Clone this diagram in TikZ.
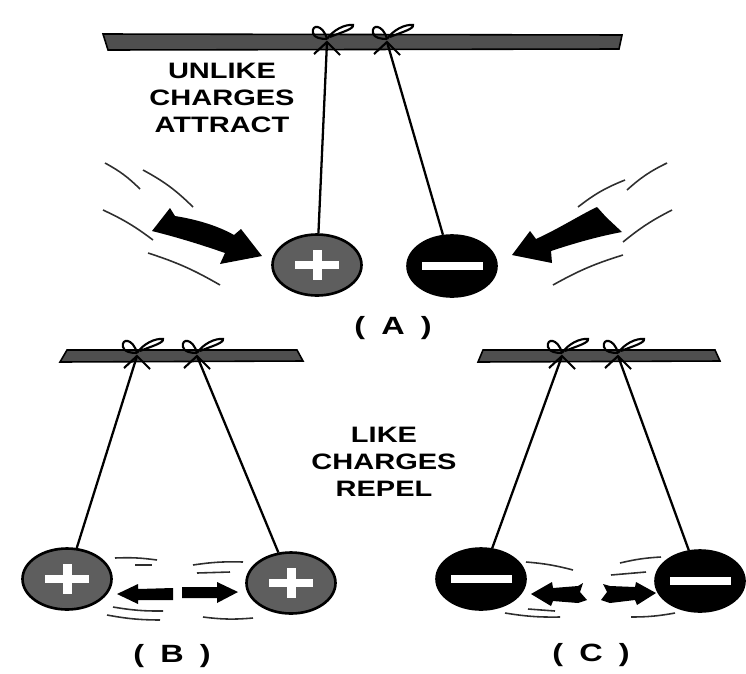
\documentclass[tikz,border=0pt]{standalone}
\usepackage{fontspec}
\setmainfont{Liberation Sans}
\usetikzlibrary{shapes.geometric}
\definecolor{BarGray}{HTML}{4F4F4F}
\definecolor{PosGray}{HTML}{5E5E5E}
\definecolor{WhooshGray}{HTML}{2E2E2E}

% bow tied round the rod, #1 is the knot point
\newcommand{\bowknot}[1]{%
  \begin{scope}[shift={(#1)}]
    \draw[knotline] (0,-3) .. controls (-4,-18) and (-16,-18) .. (-14,-9) .. controls (-13,-4) and (-6,-3) .. (0,-3);
    \draw[knotline] (0,-3) .. controls (6,-12) and (18,-18) .. (26,-17) .. controls (27,-13) and (15,-10) .. (3,-5);
    \draw[knotline] (-13,12) -- (0,0) -- (13,13);
  \end{scope}}

\begin{document}
\begin{tikzpicture}[x=0.02cm,y=-0.02cm,
 rod/.style={draw=black,line width=0.9pt,fill=BarGray},
 thread/.style={line width=1.3pt},
 knotline/.style={line width=1.2pt},
 whoosh/.style={line width=0.9pt,color=WhooshGray},
 ball/.style={ellipse,draw=black,line width=1.5pt,minimum width=1.78cm,minimum height=1.22cm,inner sep=0pt},
 posball/.style={ball,fill=PosGray,path picture={
   \fill[white] ([xshift=-0.44cm,yshift=-0.08cm]path picture bounding box.center) rectangle ([xshift=0.44cm,yshift=0.08cm]path picture bounding box.center);
   \fill[white] ([xshift=-0.09cm,yshift=-0.3cm]path picture bounding box.center) rectangle ([xshift=0.09cm,yshift=0.3cm]path picture bounding box.center);}},
 negball/.style={ball,fill=black,path picture={
   \fill[white] ([xshift=-0.61cm,yshift=-0.08cm]path picture bounding box.center) rectangle ([xshift=0.61cm,yshift=0.08cm]path picture bounding box.center);}},
 heading/.style={font=\fontsize{12.7}{15.4}\selectfont\bfseries,align=center,xscale=1.3,inner sep=0pt},
 caption/.style={font=\fontsize{14.2}{17}\selectfont\bfseries,xscale=1.3,inner sep=0pt}]
\useasboundingbox (0,0) rectangle (746,673);

% (A) unlike charges
\fill[rod] (103,34) -- (622,35) -- (619,49) -- (108,50) -- cycle;
\coordinate (kA1) at (327,42);
\coordinate (kA2) at (387,42);
\node[posball] (Ap) at (317,265) {};
\node[negball] (An) at (452,266) {};
\draw[thread] (kA1) -- (Ap);
\draw[thread] (kA2) -- (An);
\bowknot{kA1}
\bowknot{kA2}
\node[heading] (unlike) at (222,98) {UNLIKE\\CHARGES\\ATTRACT};
\fill (152,231) -- (170,208) -- (175,216) .. controls (200,220) and (220,227) .. (234,235)
  -- (241,229) -- (262,256) -- (220,264) -- (225,253) .. controls (205,246) and (180,238) .. (152,231) -- cycle;
\fill (512,255) -- (530,231) -- (536,239) .. controls (560,228) and (580,215) .. (597,207)
  -- (606,217) -- (622,232) .. controls (600,236) and (575,243) .. (551,251) -- (552,263) -- cycle;
\draw[whoosh] (105,163) to[bend left=8] (140,189);
\draw[whoosh] (143,170) to[bend left=8] (193,207);
\draw[whoosh] (103,210) to[bend left=6] (153,240);
\draw[whoosh] (148,253) to[bend left=6] (220,285);
\draw[whoosh] (578,207) to[bend left=8] (625,180);
\draw[whoosh] (627,190) to[bend left=8] (667,163);
\draw[whoosh] (623,242) to[bend left=6] (672,210);
\draw[whoosh] (553,285) to[bend left=6] (623,255);
\node[caption] (capA) at (393,328) {(\hspace{0.5em}A\hspace{0.5em})};

% (B) like charges, both positive
\fill[rod] (67,350) -- (297,350) -- (303,361) -- (60,362) -- cycle;
\coordinate (kB1) at (137,356);
\coordinate (kB2) at (197,356);
\node[posball] (Bl) at (67,579) {};
\node[posball] (Br) at (291,583) {};
\draw[thread] (kB1) -- (Bl);
\draw[thread] (kB2) -- (Br);
\bowknot{kB1}
\bowknot{kB2}
\fill (117,594) -- (138,584) -- (138,589) -- (173,588) -- (173,600) -- (138,600) -- (138,604) -- cycle;
\fill (238,592) -- (217,582) -- (217,587) -- (182,587) -- (182,598) -- (217,598) -- (217,603) -- cycle;
\draw[whoosh] (115,558) to[bend left=5] (157,560);
\draw[whoosh] (135,565) -- (152,565);
\draw[whoosh] (113,607) to[bend right=5] (163,611);
\draw[whoosh] (107,615) to[bend right=5] (160,620);
\draw[whoosh] (193,565) to[bend left=5] (243,562);
\draw[whoosh] (197,573) -- (230,572);
\draw[whoosh] (203,617) to[bend right=6] (253,618);
\node[caption] (capB) at (172,656) {(\hspace{0.5em}B\hspace{0.5em})};

% like charges, caption between the two rods
\node[heading] (like) at (384,462) {LIKE\\CHARGES\\REPEL};

% (C) like charges, both negative
\fill[rod] (483,350) -- (715,350) -- (720,361) -- (478,362) -- cycle;
\coordinate (kC1) at (562,356);
\coordinate (kC2) at (618,356);
\node[negball] (Cl) at (481,579) {};
\node[negball] (Cr) at (700,581) {};
\draw[thread] (kC1) -- (Cl);
\draw[thread] (kC2) -- (Cr);
\bowknot{kC1}
\bowknot{kC2}
\fill (531,594) -- (552,582) -- (553,588) -- (578,586) -- (583,583) -- (580,592) -- (587,600) -- (578,603) -- (553,601) -- (551,606) -- cycle;
\fill (656,593) -- (636,582) -- (635,587) -- (610,586) -- (603,584) -- (607,592) -- (601,600) -- (610,603) -- (635,600) -- (637,605) -- cycle;
\draw[whoosh] (526,562) to[bend left=5] (573,570);
\draw[whoosh] (505,613) to[bend right=5] (560,617);
\draw[whoosh] (528,609) -- (555,611);
\draw[whoosh] (620,563) to[bend left=5] (661,557);
\draw[whoosh] (611,575) -- (646,572);
\draw[whoosh] (631,617) to[bend right=5] (675,613);
\node[caption] (capC) at (591,655) {(\hspace{0.5em}C\hspace{0.5em})};
\end{tikzpicture}
\end{document}
